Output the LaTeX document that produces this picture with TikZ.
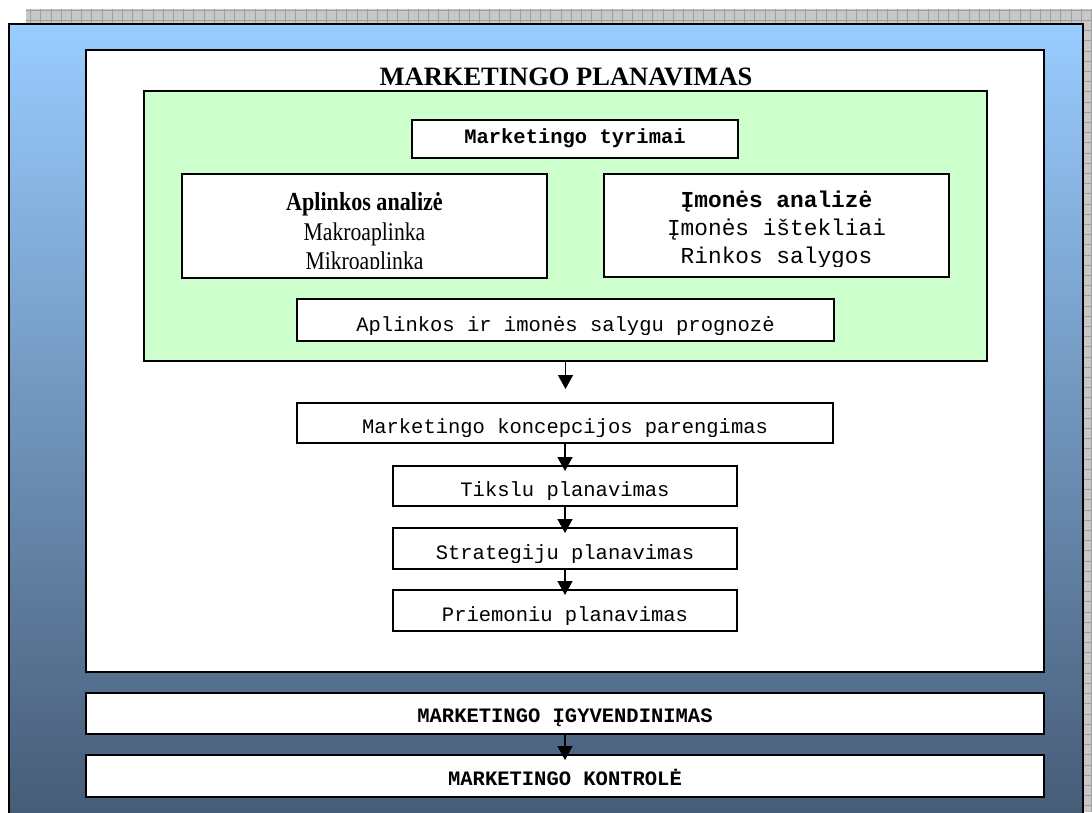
\documentclass[tikz,border=0pt]{standalone}
\usepackage{fontspec}
\setmainfont{Liberation Serif}
\newfontfamily\monofont{Liberation Mono}
\newfontfamily\narrowserif[FakeStretch=0.85]{Liberation Serif}
\usetikzlibrary{arrows.meta,shadows,calc}

\definecolor{skytop}{HTML}{99CCFF}
\definecolor{skybottom}{HTML}{475C77}
\definecolor{mint}{HTML}{CCFFCC}
\definecolor{gridfill}{HTML}{C8C8C8}
\definecolor{gridline}{HTML}{9E9E9E}
\definecolor{edgeshade}{HTML}{8C8C8C}

\tikzset{
  panel/.style={rectangle, draw=black, line width=1.5pt, fill=white,
    inner sep=0pt, outer sep=0pt,
    drop shadow={shadow xshift=1.2pt, shadow yshift=-1.2pt, fill=edgeshade, opacity=1}},
  label/.style={inner sep=0pt, anchor=base},
  mono/.style={label, font=\monofont\fontsize{20.5}{24}\selectfont},
  monobold/.style={label, font=\monofont\bfseries\fontsize{20.5}{24}\selectfont},
  monolarge/.style={label, font=\monofont\fontsize{22.8}{27}\selectfont},
  heading/.style={label, font=\bfseries\fontsize{26.5}{30}\selectfont},
  narrow/.style={label, font=\narrowserif\fontsize{25.5}{30}\selectfont},
  flow/.style={draw=black, line width=1.4pt, -{Triangle[width=15pt,length=14pt]}}
}

\begin{document}
\begin{tikzpicture}[x=1pt,y=-1pt]
\useasboundingbox (0,0) rectangle (1092,812);

% checkered backdrop
\fill[gridfill] (26,9) rectangle (1092,812);
\draw[gridline, line width=0.8pt] (26,812) grid[step=10.2pt] (1092,9);

% shaded frame
\node[panel, top color=skytop, bottom color=skybottom,
      minimum width=1074pt, minimum height=790pt] (sky) at (546,419) {};

% planning sheet
\node[panel, minimum width=958pt, minimum height=622pt] (sheet) at (565,361) {};
\node[heading] (title) at (566,85) {MARKETINGO PLANAVIMAS};

% research block
\node[panel, fill=mint, minimum width=843pt, minimum height=270pt] (research) at (565.5,226) {};
\node[panel, minimum width=326pt, minimum height=38pt] (tyrimai) at (575,139) {};
\node[monobold] (tyrimaitxt) at (575,143) {Marketingo tyrimai};

\node[panel, minimum width=365pt, minimum height=104pt] (aplinka) at (364.5,226) {};
\begin{scope}
  \clip (183,175) rectangle (546,268);
  \node[narrow, font=\narrowserif\bfseries\fontsize{26}{30}\selectfont] (aplinka1) at (364.5,210) {Aplinkos analizė};
  \node[narrow] (aplinka2) at (364.5,240) {Makroaplinka};
  \node[narrow] (aplinka3) at (364.5,269) {Mikroaplinka};
\end{scope}

\node[panel, minimum width=345pt, minimum height=103pt] (imone) at (776.5,225.5) {};
\begin{scope}
  \clip (605,175) rectangle (948,266);
  \node[monolarge, font=\monofont\bfseries\fontsize{22.8}{27}\selectfont] (imone1) at (776.5,207) {Įmonės analizė};
  \node[monolarge] (imone2) at (776.5,235) {Įmonės ištekliai};
  \node[monolarge] (imone3) at (776.5,263) {Rinkos salygos};
\end{scope}

\node[panel, minimum width=537pt, minimum height=42pt] (prognoze) at (565.5,320) {};
\begin{scope}
  \clip (298,300) rectangle (833,334.5);
  \node[mono] (prognozetxt) at (565.5,331.5) {Aplinkos ir imonės salygu prognozė};
\end{scope}

% planning steps
\node[panel, minimum width=536pt, minimum height=40pt] (koncepcija) at (565,423) {};
\begin{scope}
  \clip (298,404) rectangle (832,436.5);
  \node[mono] (koncepcijatxt) at (565,433.5) {Marketingo koncepcijos parengimas};
\end{scope}

\node[panel, minimum width=344pt, minimum height=40pt] (tikslai) at (565,486) {};
\begin{scope}
  \clip (394,467) rectangle (736,499.5);
  \node[mono] (tikslaitxt) at (565,496.5) {Tikslu planavimas};
\end{scope}

\node[panel, minimum width=344pt, minimum height=41pt] (strategija) at (565,548.5) {};
\begin{scope}
  \clip (394,529) rectangle (736,562.5);
  \node[mono] (strategijatxt) at (565,559.5) {Strategiju planavimas};
\end{scope}

\node[panel, minimum width=344pt, minimum height=41pt] (priemones) at (565,610.5) {};
\begin{scope}
  \clip (394,591) rectangle (736,624.5);
  \node[mono] (priemonestxt) at (565,621.5) {Priemoniu planavimas};
\end{scope}

% implementation and control
\node[panel, minimum width=958pt, minimum height=41pt] (igyvendinimas) at (565,713.5) {};
\node[monobold] (igyvendinimastxt) at (565,722) {MARKETINGO ĮGYVENDINIMAS};
\node[panel, minimum width=958pt, minimum height=42pt] (kontrole) at (565,776) {};
\node[monobold] (kontroletxt) at (565,785) {MARKETINGO KONTROLĖ};

% connectors
\draw[flow, shorten >=14pt] (research.south) -- (research.south |- koncepcija.north);
\draw[flow, shorten >=-5pt] (koncepcija.south) -- (tikslai.north);
\draw[flow, shorten >=-5pt] (tikslai.south) -- (strategija.north);
\draw[flow, shorten >=-5pt] (strategija.south) -- (priemones.north);
\draw[flow, shorten >=-5pt] (igyvendinimas.south) -- (kontrole.north);
\end{tikzpicture}
\end{document}
